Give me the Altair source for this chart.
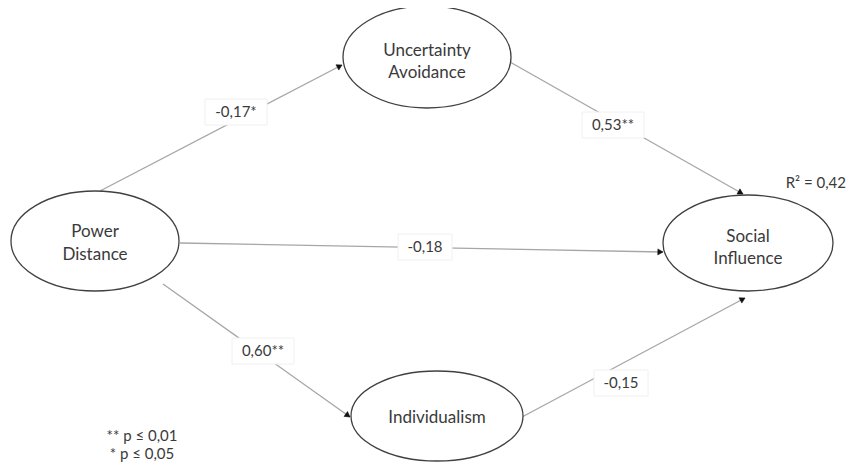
import math
import altair as alt
import pandas as pd

# ---- data -------------------------------------------------------------
node_names = ["Power Distance", "Uncertainty Avoidance", "Social Influence", "Individualism"]
node_line1 = ["Power", "Uncertainty", "Social", "Individualism"]
node_line2 = ["Distance", "Avoidance", "Influence", ""]
node_cx = [95, 427, 748, 437]
node_cy = [241, 57, 243, 416]
node_rx = [84, 84, 85, 86]
node_ry = [50, 51, 48, 45]
line1_y = [232, 51, 237, 418]
line2_y = [255, 73, 259, 418]

edge_from = ["Power Distance", "Uncertainty Avoidance", "Power Distance", "Power Distance", "Individualism"]
edge_to = ["Uncertainty Avoidance", "Social Influence", "Social Influence", "Individualism", "Social Influence"]
edge_x1 = [100, 510, 180, 163, 522]
edge_y1 = [191, 62, 243, 284, 417]
edge_x2 = [342, 743, 663, 350, 745]
edge_y2 = [65, 194, 252, 417, 298]

coef_text = ["-0,17*", "0,53**", "-0,18", "0,60**", "-0,15"]
coef_x = [236, 613, 425, 263, 621]
coef_y = [112, 125, 247, 351, 383]
coef_halfw = [31, 31, 27, 31, 27]
coef_halfh = [13, 13, 13, 13, 13]

r2_text = ["R² = 0,42"]
r2_x = [846]
r2_y = [183]

legend_text = ["** p ≤ 0,01", "* p ≤ 0,05"]
legend_x = [142, 142]
legend_y = [436, 454]

# ---- tables -----------------------------------------------------------
FONT = "Lato"
TXT = "#3a3a3a"
ARROW_SIZE = 36

def ellipse_path(rx, ry):
    k = ry / rx
    return f"M-1,0A1,{k:.4f},0,1,1,1,0A1,{k:.4f},0,1,1,-1,0Z"

nodes = pd.DataFrame({
    "name": node_names, "cx": node_cx, "cy": node_cy,
    "shape": [ellipse_path(a, b) for a, b in zip(node_rx, node_ry)],
    "size": [(2 * a) ** 2 for a in node_rx],
})

labels = pd.DataFrame({
    "t": node_line1 + node_line2,
    "x": node_cx + node_cx,
    "y": line1_y + line2_y,
})
labels = labels[labels["t"] != ""]

edges = pd.DataFrame({
    "src": edge_from, "dst": edge_to,
    "x1": edge_x1, "y1": edge_y1, "x2": edge_x2, "y2": edge_y2,
})
# arrowhead: builtin triangle-up rotated to the edge direction,
# centred half a triangle-height back from the tip
h = math.sqrt(3) * (math.sqrt(ARROW_SIZE) / 2) / 2
angs, ax, ay = [], [], []
for x1, y1, x2, y2 in zip(edge_x1, edge_y1, edge_x2, edge_y2):
    dx, dy = x2 - x1, y2 - y1
    L = math.hypot(dx, dy)
    angs.append((math.degrees(math.atan2(dx, -dy)) + 360) % 360)
    ax.append(x2 - dx / L * h)
    ay.append(y2 - dy / L * h)
edges["angle"] = angs
edges["ax"] = ax
edges["ay"] = ay

coefs = pd.DataFrame({"t": coef_text, "x": coef_x, "y": coef_y})
coefs["xa"] = [x - w for x, w in zip(coef_x, coef_halfw)]
coefs["xb"] = [x + w for x, w in zip(coef_x, coef_halfw)]
coefs["ya"] = [y - hh for y, hh in zip(coef_y, coef_halfh)]
coefs["yb"] = [y + hh for y, hh in zip(coef_y, coef_halfh)]

r2 = pd.DataFrame({"t": r2_text, "x": r2_x, "y": r2_y})
legend = pd.DataFrame({"t": legend_text, "x": legend_x, "y": legend_y})

# ---- scales -----------------------------------------------------------
W, H = 839, 454
xs = alt.Scale(domain=[8, 8 + W], nice=False, zero=False)
ys = alt.Scale(domain=[8, 8 + H], nice=False, zero=False, reverse=True)
X = lambda f: alt.X(f, type="quantitative", scale=xs, axis=None)
Y = lambda f: alt.Y(f, type="quantitative", scale=ys, axis=None)

edge_layer = alt.Chart(edges).mark_rule(color="#a6a6a6", strokeWidth=1.3).encode(
    x=X("x1"), y=Y("y1"), x2="x2", y2="y2"
)

box_layer = alt.Chart(coefs).mark_rect(fill="white", stroke="#f0f0f0", strokeWidth=1).encode(
    x=X("xa"), x2="xb", y=Y("ya"), y2="yb"
)

node_layer = alt.Chart(nodes).mark_point(
    filled=False, fill="white", fillOpacity=1, stroke="#404040", strokeWidth=1.3, opacity=1
).encode(
    x=X("cx"), y=Y("cy"),
    shape=alt.Shape("shape:N", scale=None, legend=None),
    size=alt.Size("size:Q", scale=None, legend=None),
)

arrow_layer = alt.Chart(edges).mark_point(
    shape="triangle-up", filled=True, fill="#111111", stroke="#111111", strokeWidth=0.5,
    size=ARROW_SIZE, opacity=1, fillOpacity=1
).encode(
    x=X("ax"), y=Y("ay"), angle=alt.Angle("angle:Q", scale=None)
)

node_text = alt.Chart(labels).mark_text(font=FONT, fontSize=17, color=TXT, baseline="middle").encode(
    x=X("x"), y=Y("y"), text="t:N"
)

coef_txt = alt.Chart(coefs).mark_text(font=FONT, fontSize=15, color=TXT, baseline="middle").encode(
    x=X("x"), y=Y("y"), text="t:N"
)

r2_txt = alt.Chart(r2).mark_text(font=FONT, fontSize=15, color=TXT, baseline="middle", align="right").encode(
    x=X("x"), y=Y("y"), text="t:N"
)

legend_txt = alt.Chart(legend).mark_text(font=FONT, fontSize=15, color=TXT, baseline="middle").encode(
    x=X("x"), y=Y("y"), text="t:N"
)

chart = alt.layer(
    edge_layer, box_layer, node_layer, arrow_layer, node_text, coef_txt, r2_txt, legend_txt
).properties(
    width=W, height=H, padding=0, autosize=alt.AutoSizeParams(type="none")
).configure(background="white").configure_view(stroke=None)

chart.save("out.html", embed_options={"renderer": "svg", "actions": False})
